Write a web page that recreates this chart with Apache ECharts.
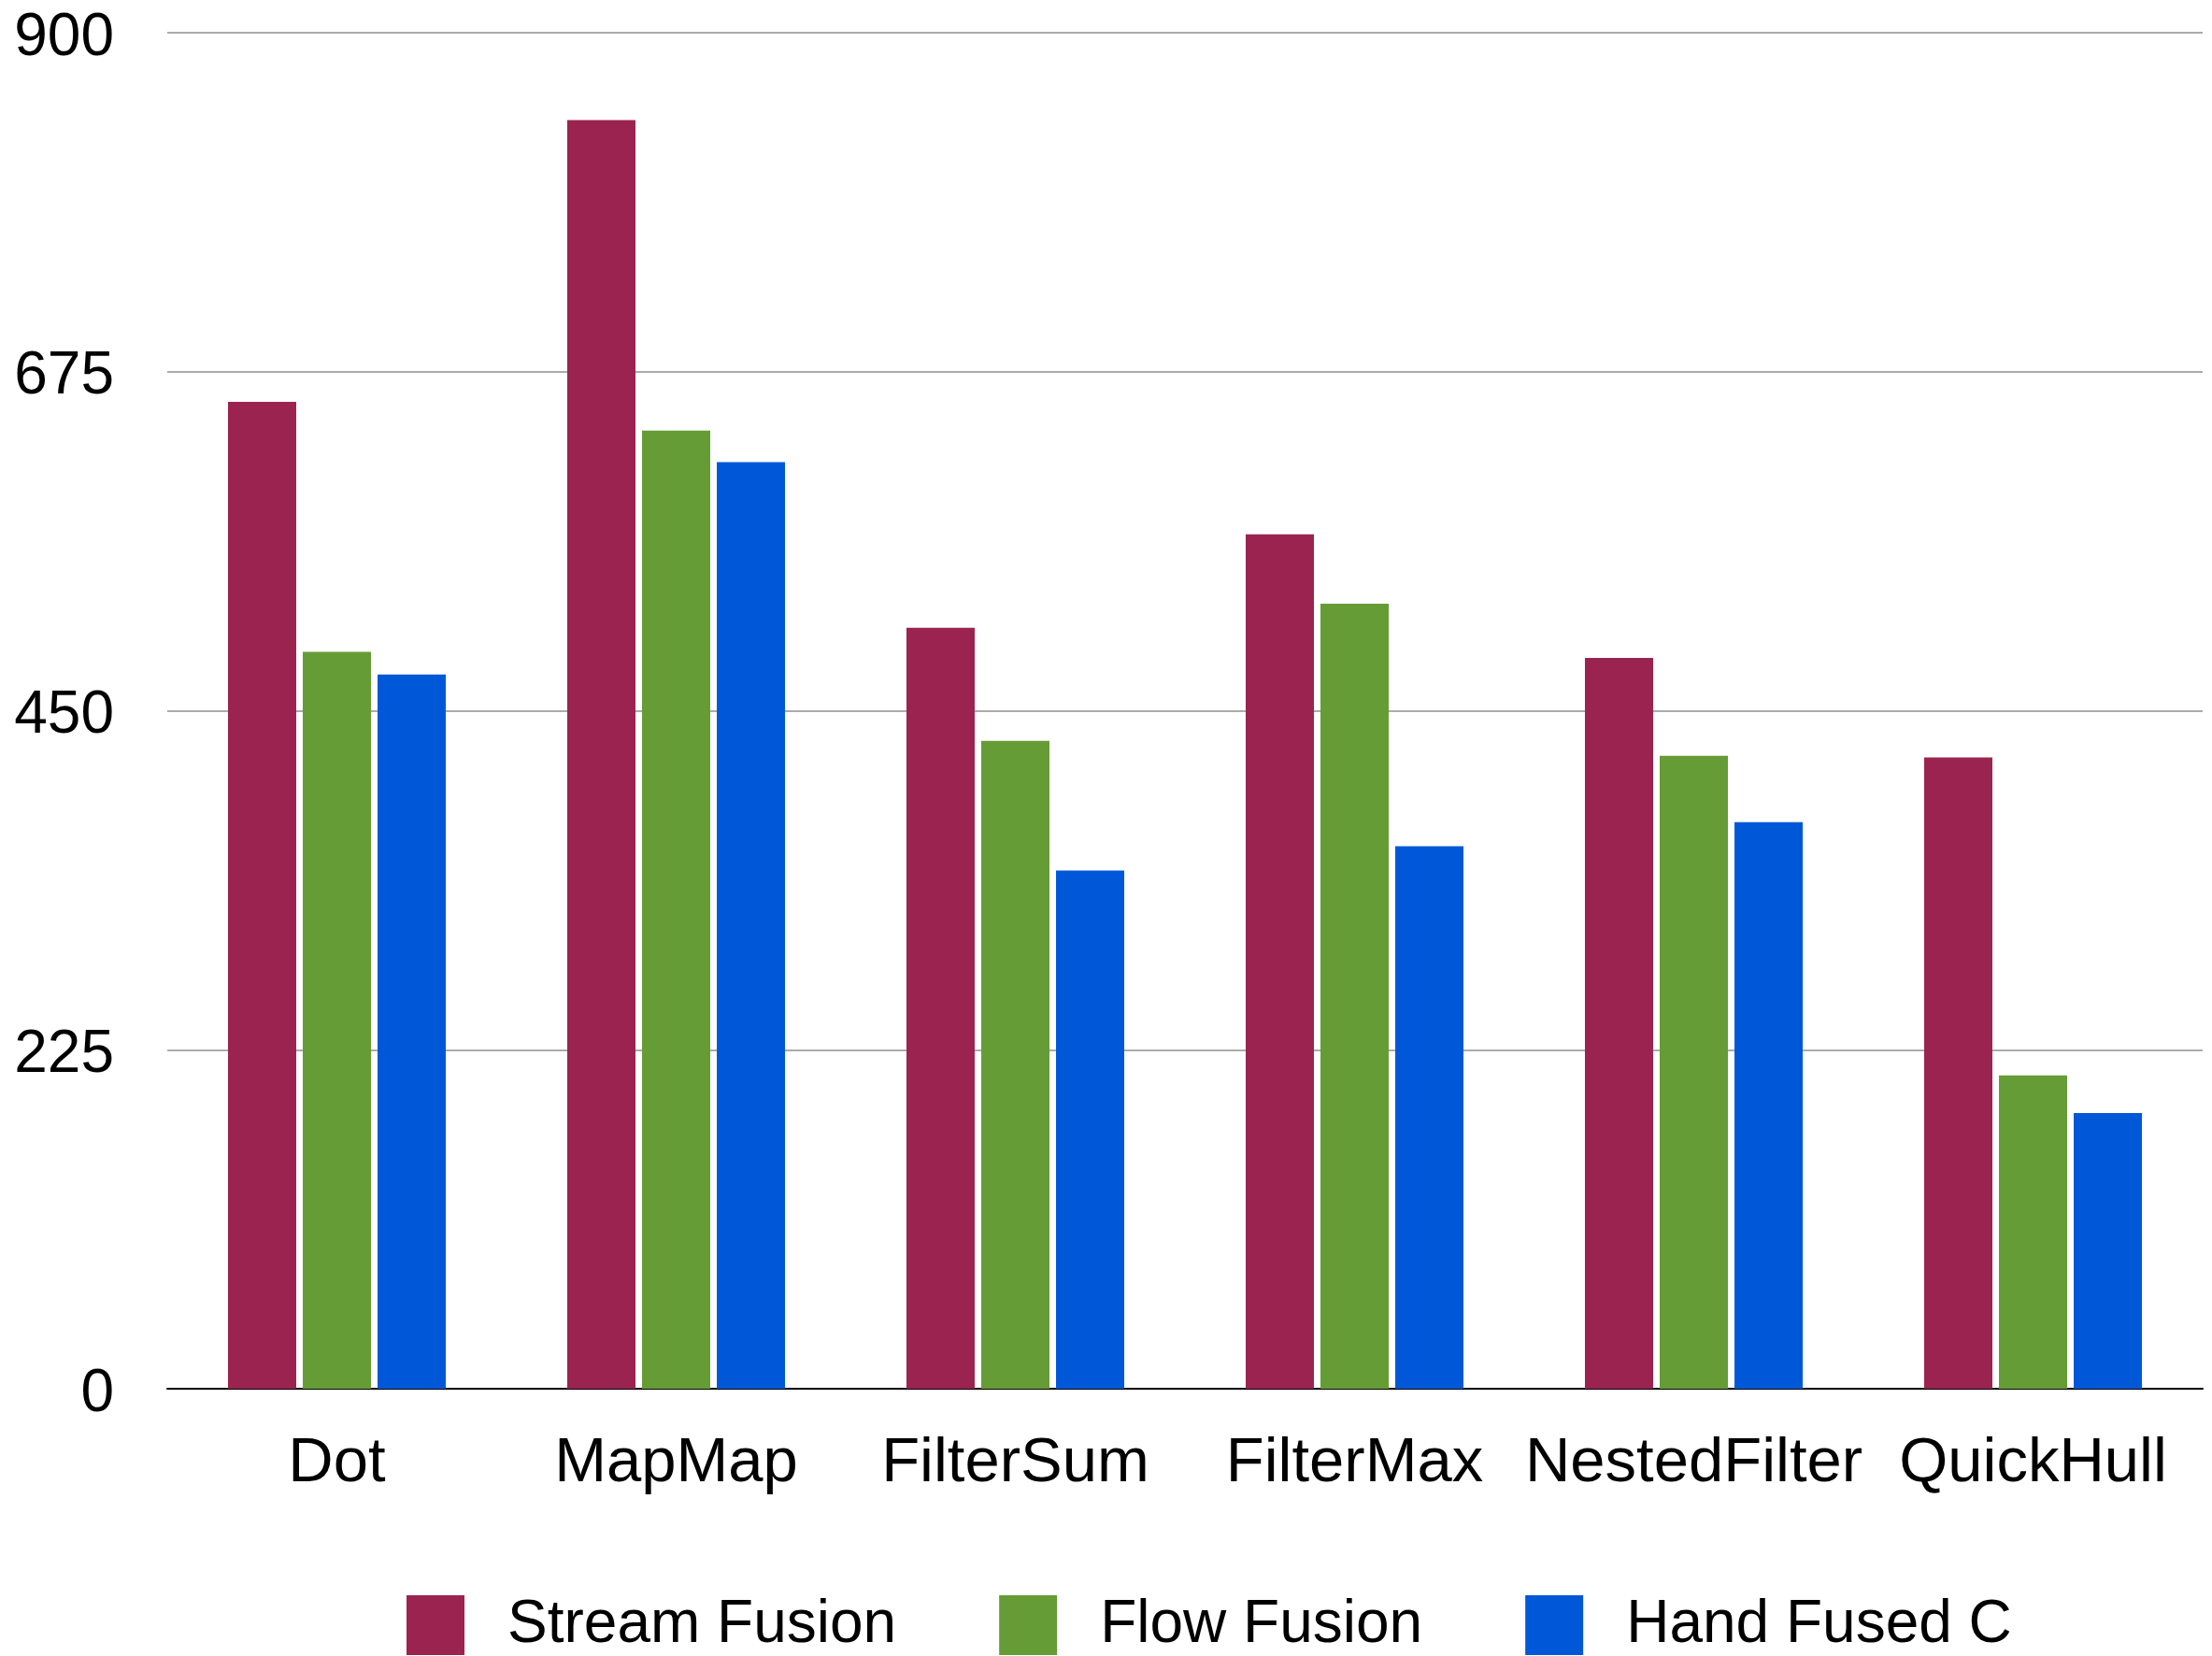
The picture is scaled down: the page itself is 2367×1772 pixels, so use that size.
<!DOCTYPE html>
<html>
<head>
<meta charset="utf-8">
<title>Fusion benchmarks</title>
<script src="https://cdn.jsdelivr.net/npm/echarts@6/dist/echarts.min.js"></script>
<style>
  html, body { margin: 0; padding: 0; background: #ffffff; }
  #chart { width: 2367px; height: 1772px; }
</style>
</head>
<body>
<div id="chart"></div>
<script>
// Benchmarks on the x axis
const categories = ['Dot', 'MapMap', 'FilterSum', 'FilterMax', 'NestedFilter', 'QuickHull'];

// Measured values per implementation
const streamFusion = [655, 842, 505, 567, 485, 419];
const flowFusion   = [489, 636, 430, 521, 420, 208];
const handFusedC   = [474, 615, 344, 360, 376, 183];

// Value axis ticks
const yTicks = [0, 225, 450, 675, 900];

const seriesNames = ['Stream Fusion', 'Flow Fusion', 'Hand Fused C'];
const seriesColors = ['#9B2350', '#669C35', '#0058D8'];
const seriesData = [streamFusion, flowFusion, handFusedC];

const FONT = '"Liberation Sans", Arial, Helvetica, sans-serif';

const chart = echarts.init(document.getElementById('chart'), null, { renderer: 'canvas' });

chart.setOption({
  backgroundColor: '#ffffff',
  animation: false,
  grid: { left: 179, right: 10, top: 35, bottom: 286, containLabel: false },
  legend: {
    data: seriesNames,
    left: 430,
    top: 1702,
    icon: 'rect',
    itemWidth: 62,
    itemHeight: 64,
    itemGap: 110,
    textStyle: {
      fontFamily: FONT,
      fontSize: 64,
      color: '#000000',
      padding: [0, 0, 0, 41]
    }
  },
  xAxis: {
    type: 'category',
    data: categories,
    axisLine: { show: true, lineStyle: { color: '#000000', width: 2 } },
    axisTick: { show: false },
    axisLabel: {
      fontFamily: FONT,
      fontSize: 67,
      color: '#000000',
      margin: 47,
      interval: 0
    },
    splitLine: { show: false }
  },
  yAxis: {
    type: 'value',
    min: yTicks[0],
    max: yTicks[yTicks.length - 1],
    interval: yTicks[1] - yTicks[0],
    axisLine: { show: false },
    axisTick: { show: false },
    axisLabel: {
      fontFamily: FONT,
      fontSize: 64,
      color: '#000000',
      margin: 57,
      formatter: '{v|{value}}',
      rich: {
        v: {
          fontFamily: FONT,
          fontSize: 64,
          color: '#000000',
          padding: [12, 0, 0, 0]
        }
      }
    },
    splitLine: { show: true, lineStyle: { color: '#ababab', width: 2 } }
  },
  series: seriesNames.map((name, i) => ({
    name: name,
    type: 'bar',
    data: seriesData[i],
    barWidth: 73,
    barGap: '9.6%',
    itemStyle: { color: seriesColors[i] }
  }))
});
</script>
</body>
</html>
